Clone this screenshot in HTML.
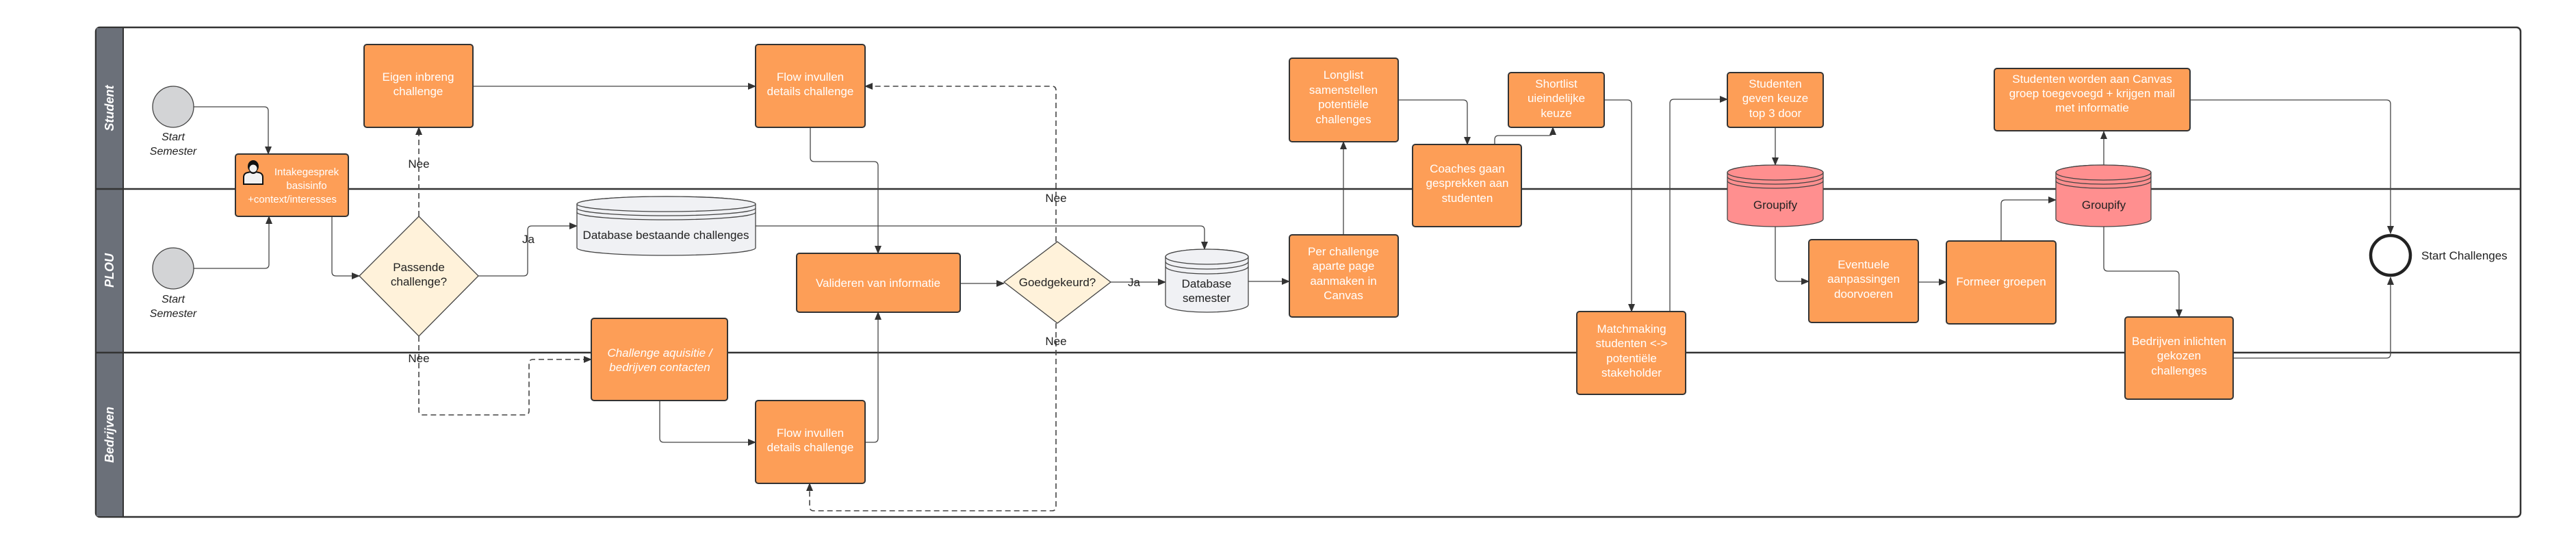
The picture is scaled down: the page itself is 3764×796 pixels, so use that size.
<!DOCTYPE html>
<html><head><meta charset="utf-8"><style>
html,body{margin:0;padding:0;background:#fff;}
svg{display:block;}
text{font-family:"Liberation Sans",sans-serif;}
.b{fill:#fd9e57;stroke:#333;stroke-width:2;}
.t{fill:#fff;font-size:17px;text-anchor:middle;}
.d{fill:#222;font-size:17px;text-anchor:middle;}
.l{fill:none;stroke:#444;stroke-width:1.3;}
.ds{fill:none;stroke:#444;stroke-width:1.6;stroke-dasharray:8 5;}
.lane{fill:#fff;font-size:18px;font-weight:bold;font-style:italic;text-anchor:middle;}
</style></head><body>
<svg width="3764" height="796" viewBox="0 0 3764 796" xmlns="http://www.w3.org/2000/svg">
<defs>
<marker id="a" markerWidth="12" markerHeight="10" refX="11" refY="5" orient="auto" markerUnits="userSpaceOnUse"><path d="M0,0 L12,5 L0,10 Z" fill="#333"/></marker>
</defs>
<rect x="140" y="40" width="3543" height="715" rx="6" fill="#fff" stroke="#333" stroke-width="2.5"/>
<rect x="141" y="41" width="39" height="713" fill="#6b7079"/>
<line x1="180" y1="40" x2="180" y2="755" stroke="#333" stroke-width="2"/>
<line x1="140" y1="276" x2="3683" y2="276" stroke="#333" stroke-width="2.5"/>
<line x1="140" y1="515" x2="3683" y2="515" stroke="#333" stroke-width="2.5"/>
<text class="lane" transform="translate(166,158) rotate(-90)">Student</text>
<text class="lane" transform="translate(166,395) rotate(-90)">PLOU</text>
<text class="lane" transform="translate(166,635) rotate(-90)">Bedrijven</text>

<path class="l" d="M283,156 H386 Q392,156 392,162 V225" marker-end="url(#a)"/>
<path class="l" d="M283,392 H387 Q393,392 393,386 V316" marker-end="url(#a)"/>
<path class="l" d="M485,316 V397 Q485,403 491,403 H525" marker-end="url(#a)"/>
<path class="ds" d="M612,316 V186" marker-end="url(#a)"/>
<text class="d" x="612" y="245">Nee</text>
<path class="l" d="M699,403 H765 Q771,403 771,397 V336 Q771,330 777,330 H843" marker-end="url(#a)"/>
<text class="d" x="772" y="355">Ja</text>
<path class="ds" d="M612,491 V600 Q612,606 618,606 H767 Q773,606 773,600 V531 Q773,525 779,525 H864" marker-end="url(#a)"/>
<text class="d" x="612" y="529">Nee</text>
<path class="l" d="M691,126 H1104" marker-end="url(#a)"/>
<path class="l" d="M964,585 V640 Q964,646 970,646 H1104" marker-end="url(#a)"/>
<path class="l" d="M1184,186 V230 Q1184,236 1190,236 H1277 Q1283,236 1283,242 V370" marker-end="url(#a)"/>
<path class="l" d="M1264,646 H1277 Q1283,646 1283,640 V456" marker-end="url(#a)"/>
<path class="l" d="M1403,414 H1467" marker-end="url(#a)"/>
<path class="ds" d="M1543,353 V132 Q1543,126 1537,126 H1264" marker-end="url(#a)"/>
<text class="d" x="1543" y="295">Nee</text>
<path class="ds" d="M1543,472 V740 Q1543,746 1537,746 H1189 Q1183,746 1183,740 V706" marker-end="url(#a)"/>
<text class="d" x="1543" y="504">Nee</text>
<path class="l" d="M1104,330 H1754 Q1760,330 1760,336 V364" marker-end="url(#a)"/>
<path class="l" d="M1623,412 H1703" marker-end="url(#a)"/>
<text class="d" x="1657" y="418" style="fill:#222">Ja</text>
<path class="l" d="M1824,411 H1884" marker-end="url(#a)"/>
<path class="l" d="M1963,343 V207" marker-end="url(#a)"/>
<path class="l" d="M2043,146 H2138 Q2144,146 2144,152 V211" marker-end="url(#a)"/>
<path class="l" d="M2184,211 V204 Q2184,198 2190,198 H2263 Q2269,198 2269,192 V186" marker-end="url(#a)"/>
<path class="l" d="M2344,146 H2378 Q2384,146 2384,152 V455" marker-end="url(#a)"/>
<path class="l" d="M2440,455 V151 Q2440,145 2446,145 H2524" marker-end="url(#a)"/>
<path class="l" d="M2594,186 V241" marker-end="url(#a)"/>
<path class="l" d="M2594,331 V405 Q2594,411 2600,411 H2643" marker-end="url(#a)"/>
<path class="l" d="M2803,412 H2844" marker-end="url(#a)"/>
<path class="l" d="M2924,352 V298 Q2924,292 2930,292 H3004" marker-end="url(#a)"/>
<path class="l" d="M3074,241 V192" marker-end="url(#a)"/>
<path class="l" d="M3074,331 V390 Q3074,396 3080,396 H3178 Q3184,396 3184,402 V463" marker-end="url(#a)"/>
<path class="l" d="M3200,146 H3487 Q3493,146 3493,152 V341" marker-end="url(#a)"/>
<path class="l" d="M3263,523 H3487 Q3493,523 3493,517 V405" marker-end="url(#a)"/>

<circle cx="253" cy="156" r="30" fill="#d3d4d6" stroke="#444" stroke-width="1.3"/>
<text x="253" y="205" font-size="16" font-style="italic" text-anchor="middle" fill="#222">Start</text>
<text x="253" y="226" font-size="16" font-style="italic" text-anchor="middle" fill="#222">Semester</text>
<circle cx="253" cy="392" r="30" fill="#d3d4d6" stroke="#444" stroke-width="1.3"/>
<text x="253" y="442" font-size="16" font-style="italic" text-anchor="middle" fill="#222">Start</text>
<text x="253" y="463" font-size="16" font-style="italic" text-anchor="middle" fill="#222">Semester</text>

<rect class="b" x="344" y="225" width="165" height="91" rx="4"/>
<g transform="translate(352,233)">
<path d="M4,36 V26 Q4,20 10,19 L14,18 Q18,22 22,18 L26,19 Q32,20 32,26 V36 Z" fill="#f2f2f2" stroke="#111" stroke-width="2"/>
<ellipse cx="18" cy="10" rx="8" ry="9" fill="#111"/>
<ellipse cx="18" cy="13" rx="5.5" ry="5.5" fill="#f2f2f2"/>
</g>
<text class="t" style="font-size:15px" x="448" y="256">Intakegesprek</text>
<text class="t" style="font-size:15px" x="448" y="276">basisinfo</text>
<text class="t" style="font-size:15px" x="427" y="296">+context/interesses</text>

<rect class="b" x="532" y="65" width="159" height="121" rx="4"/>
<text class="t" x="611" y="118">Eigen inbreng</text><text class="t" x="611" y="139">challenge</text>
<rect class="b" x="1104" y="65" width="160" height="121" rx="4"/>
<text class="t" x="1184" y="118">Flow invullen</text><text class="t" x="1184" y="139">details challenge</text>
<rect class="b" x="1164" y="370" width="239" height="86" rx="4"/>
<text class="t" x="1283" y="419">Valideren van informatie</text>
<rect class="b" x="864" y="465" width="199" height="120" rx="4"/>
<text class="t" x="964" y="521" font-style="italic">Challenge aquisitie /</text><text class="t" x="964" y="542" font-style="italic">bedrijven contacten</text>
<rect class="b" x="1104" y="585" width="160" height="121" rx="4"/>
<text class="t" x="1184" y="638">Flow invullen</text><text class="t" x="1184" y="659">details challenge</text>
<rect class="b" x="1884" y="343" width="159" height="120" rx="4"/>
<text class="t" x="1963" y="373">Per challenge</text><text class="t" x="1963" y="394">aparte page</text><text class="t" x="1963" y="416">aanmaken in</text><text class="t" x="1963" y="437">Canvas</text>
<rect class="b" x="1884" y="85" width="159" height="122" rx="4"/>
<text class="t" x="1963" y="115">Longlist</text><text class="t" x="1963" y="137">samenstellen</text><text class="t" x="1963" y="158">potentiële</text><text class="t" x="1963" y="180">challenges</text>
<rect class="b" x="2064" y="211" width="159" height="120" rx="4"/>
<text class="t" x="2144" y="252">Coaches gaan</text><text class="t" x="2144" y="273">gesprekken aan</text><text class="t" x="2144" y="295">studenten</text>
<rect class="b" x="2204" y="106" width="140" height="80" rx="4"/>
<text class="t" x="2274" y="128">Shortlist</text><text class="t" x="2274" y="149">uieindelijke</text><text class="t" x="2274" y="171">keuze</text>
<rect class="b" x="2304" y="455" width="159" height="121" rx="4"/>
<text class="t" x="2384" y="486">Matchmaking</text><text class="t" x="2384" y="507">studenten &lt;-&gt;</text><text class="t" x="2384" y="529">potentiële</text><text class="t" x="2384" y="550">stakeholder</text>
<rect class="b" x="2524" y="106" width="140" height="80" rx="4"/>
<text class="t" x="2594" y="128">Studenten</text><text class="t" x="2594" y="149">geven keuze</text><text class="t" x="2594" y="171">top 3 door</text>
<rect class="b" x="2643" y="350" width="160" height="121" rx="4"/>
<text class="t" x="2723" y="392">Eventuele</text><text class="t" x="2723" y="413">aanpassingen</text><text class="t" x="2723" y="435">doorvoeren</text>
<rect class="b" x="2844" y="352" width="160" height="121" rx="4"/>
<text class="t" x="2924" y="417">Formeer groepen</text>
<rect class="b" x="2914" y="100" width="286" height="91" rx="4"/>
<text class="t" x="3057" y="121">Studenten worden aan Canvas</text><text class="t" x="3057" y="142">groep toegevoegd + krijgen mail</text><text class="t" x="3057" y="163">met informatie</text>
<rect class="b" x="3105" y="463" width="158" height="120" rx="4"/>
<text class="t" x="3184" y="504">Bedrijven inlichten</text><text class="t" x="3184" y="525">gekozen</text><text class="t" x="3184" y="547">challenges</text>

<path d="M612,316 L699,403 L612,491 L525,403 Z" fill="#fff2da" stroke="#444" stroke-width="1.3"/>
<text class="d" x="612" y="396">Passende</text><text class="d" x="612" y="417">challenge?</text>
<path d="M1545,353 L1623,412 L1545,472 L1467,412 Z" fill="#fff2da" stroke="#444" stroke-width="1.3"/>
<text class="d" x="1545" y="418">Goedgekeurd?</text>

<g fill="#f0f1f4" stroke="#444" stroke-width="1.3">
<path d="M843,298 A130.5,11 0 0 1 1104,298 V362 A130.5,11 0 0 1 843,362 Z"/>
<ellipse cx="973.5" cy="298" rx="130.5" ry="11"/>
<path d="M843,304 A130.5,11 0 0 0 1104,304 M843,310 A130.5,11 0 0 0 1104,310" fill="none"/>
<path d="M1703,375 A60.5,11 0 0 1 1824,375 V445 A60.5,11 0 0 1 1703,445 Z"/>
<ellipse cx="1763.5" cy="375" rx="60.5" ry="11"/>
<path d="M1703,382 A60.5,11 0 0 0 1824,382 M1703,389 A60.5,11 0 0 0 1824,389" fill="none"/>
</g>
<text class="d" x="973" y="349">Database bestaande challenges</text>
<text class="d" x="1763" y="420">Database</text><text class="d" x="1763" y="441">semester</text>
<g fill="#ff8f8f" stroke="#444" stroke-width="1.3">
<path d="M2524,252 A70,11 0 0 1 2664,252 V320 A70,11 0 0 1 2524,320 Z"/>
<ellipse cx="2594" cy="252" rx="70" ry="11"/>
<path d="M2524,258 A70,11 0 0 0 2664,258 M2524,264 A70,11 0 0 0 2664,264" fill="none"/>
<path d="M3004,252 A69.5,11 0 0 1 3143,252 V320 A69.5,11 0 0 1 3004,320 Z"/>
<ellipse cx="3073.5" cy="252" rx="69.5" ry="11"/>
<path d="M3004,258 A69.5,11 0 0 0 3143,258 M3004,264 A69.5,11 0 0 0 3143,264" fill="none"/>
</g>
<text class="d" x="2594" y="305">Groupify</text>
<text class="d" x="3074" y="305">Groupify</text>

<circle cx="3493" cy="373" r="29" fill="#fff" stroke="#222" stroke-width="4.5"/>
<text x="3538" y="379" font-size="17" fill="#222">Start Challenges</text>
</svg>
</body></html>
